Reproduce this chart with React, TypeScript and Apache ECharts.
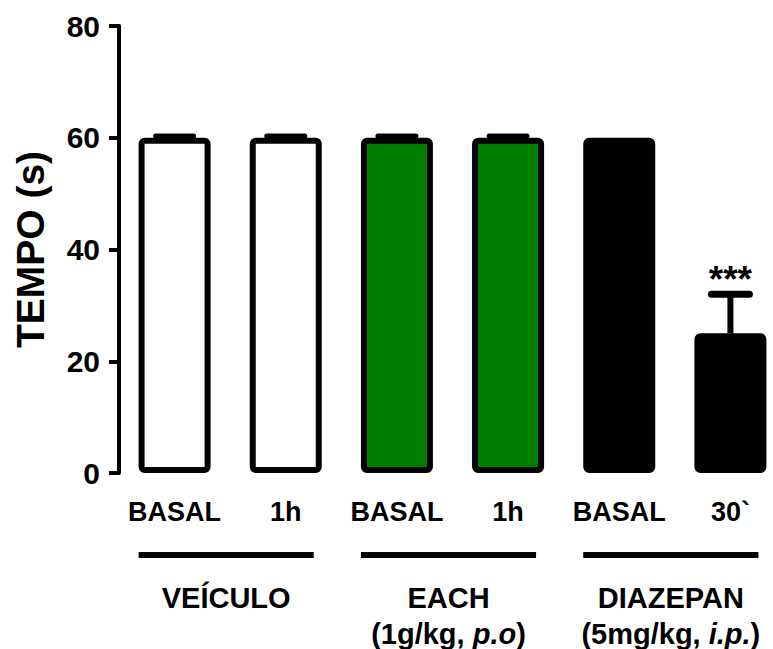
import React, { useEffect, useRef } from "react";
import * as echarts from "echarts";

const categories = ["BASAL", "1h", "BASAL", "1h", "BASAL", "30`"];
const means = [60, 60, 60, 60, 60, 25];
const sems = [0.3, 0.3, 0.3, 0.3, 0, 7];
const stars = ["", "", "", "", "", "***"];
const barColors = ["#ffffff", "#ffffff", "#007f00", "#007f00", "#000000", "#000000"];
const yTicks = [0, 20, 40, 60, 80];
const groupNames = ["VEÍCULO", "EACH", "DIAZEPAN"];
const groupDoses = ["", "(1g/kg, |p.o|)", "(5mg/kg, |i.p.|)"];
const groupStart = [0, 2, 4];
const groupEnd = [1, 3, 5];

const FONT = "Liberation Sans, Arial, sans-serif";

export default function App() {
  const ref = useRef<HTMLDivElement>(null);
  useEffect(() => {
    if (!ref.current) return;
    const chart = echarts.init(ref.current, undefined, { renderer: "svg" });
    const errData = means.map((m, i) => [i, m, sems[i]]);
    const groupData = groupStart.map((s, i) => [s, groupEnd[i], 0, i]);
    chart.setOption({
      animation: false,
      backgroundColor: "#ffffff",
      grid: {
        left: 119,
        right: -13,
        top: 26,
        bottom: 176,
        containLabel: false,
        outerBoundsMode: "none",
      },
      xAxis: {
        type: "category",
        data: categories,
        axisLine: { show: false },
        axisTick: { show: false },
        axisLabel: {
          margin: 25,
          fontFamily: FONT,
          fontWeight: "bold",
          fontSize: 27,
          color: "#000",
          interval: 0,
        },
      },
      yAxis: {
        type: "value",
        min: yTicks[0],
        max: yTicks[yTicks.length - 1],
        interval: 20,
        name: "TEMPO (s)",
        nameLocation: "middle",
        nameGap: 69,
        nameRotate: 90,
        nameTextStyle: { fontFamily: FONT, fontWeight: "bold", fontSize: 39, color: "#000" },
        axisLine: { show: true, lineStyle: { color: "#000", width: 4 } },
        axisTick: { show: true, length: 10, lineStyle: { color: "#000", width: 4 } },
        splitLine: { show: false },
        axisLabel: { margin: 19, fontFamily: FONT, fontWeight: "bold", fontSize: 30, color: "#000" },
      },
      series: [
        {
          type: "bar",
          barWidth: 72,
          data: means.map((m, i) => ({
            value: m,
            itemStyle: {
              color: barColors[i],
              borderColor: "#000",
              borderWidth: 6,
              borderRadius: 3,
            },
          })),
          z: 2,
        },
        {
          type: "custom",
          z: 3,
          clip: false,
          data: errData,
          encode: { x: 0, y: 1 },
          renderItem: (params: any, api: any) => {
            const i = api.value(0);
            const m = api.value(1);
            const s = api.value(2);
            const p0 = api.coord([i, m]);
            const p1 = api.coord([i, m + s]);
            const children: any[] = [];
            if (s > 0) {
              children.push({
                type: "line",
                shape: { x1: p0[0], y1: p0[1], x2: p1[0], y2: p1[1] },
                style: { stroke: "#000", lineWidth: 6 },
              });
              children.push({
                type: "line",
                shape: { x1: p1[0] - 19, y1: p1[1], x2: p1[0] + 19, y2: p1[1] },
                style: { stroke: "#000", lineWidth: s > 1 ? 7 : 5, lineCap: "round" },
              });
            }
            const st = stars[params.dataIndex];
            if (st) {
              children.push({
                type: "text",
                x: p1[0],
                y: p1[1] - 15,
                style: {
                  text: st,
                  fontFamily: FONT,
                  fontWeight: "bold",
                  fontSize: 37,
                  fill: "#000",
                  align: "center",
                  verticalAlign: "middle",
                },
              });
            }
            return { type: "group", children };
          },
        },
        {
          type: "custom",
          z: 3,
          clip: false,
          data: groupData,
          encode: { x: [0, 1], y: 2 },
          renderItem: (params: any, api: any) => {
            const a = api.value(0);
            const b = api.value(1);
            const gi = api.value(3);
            const pa = api.coord([a, 0]);
            const pb = api.coord([b, 0]);
            const x1 = pa[0] - 36;
            const x2 = pb[0] + 28;
            const y0 = pa[1];
            const cx = (x1 + x2) / 2;
            const dose = groupDoses[gi];
            let rich = "{b|" + groupNames[gi] + "}";
            if (dose) {
              const parts = dose.split("|");
              rich += "\n{n|" + parts[0] + "}{i|" + parts[1] + "}{n|" + parts[2] + "}";
            }
            return {
              type: "group",
              children: [
                {
                  type: "line",
                  shape: { x1, y1: y0 + 82, x2, y2: y0 + 82 },
                  style: { stroke: "#000", lineWidth: 6 },
                },
                {
                  type: "text",
                  x: cx,
                  y: y0 + 107,
                  style: {
                    text: rich,
                    align: "center",
                    verticalAlign: "top",
                    rich: {
                      b: { fontFamily: FONT, fontWeight: "bold", fontSize: 29, lineHeight: 36, fill: "#000" },
                      n: { fontFamily: FONT, fontWeight: "bold", fontSize: 29, lineHeight: 36, fill: "#000" },
                      i: { fontFamily: FONT, fontWeight: "bold", fontStyle: "italic", fontSize: 29, lineHeight: 36, fill: "#000" },
                    },
                  },
                },
              ],
            };
          },
        },
      ],
    });
    return () => chart.dispose();
  }, []);
  return (
    <div
      ref={ref}
      style={{ position: "fixed", left: 0, top: 0, width: 773, height: 649, background: "#fff" }}
    />
  );
}
